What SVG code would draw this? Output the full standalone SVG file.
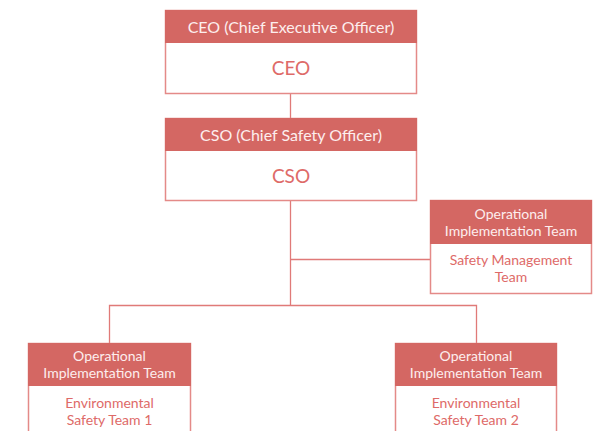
<svg xmlns="http://www.w3.org/2000/svg" width="598" height="431" viewBox="0 0 598 431">
<style>
.box{fill:#ffffff;stroke:#e48a88;stroke-width:1.5}
.hd{fill:#d46763}
.ht{fill:#fdeeee;font-family:Lato,"Noto Sans",sans-serif;text-anchor:middle}
.bt{fill:#de6a68;font-family:Lato,"Noto Sans",sans-serif;text-anchor:middle}
.sm{font-size:14px}
.ln{fill:none;stroke:#e07a78;stroke-width:1.3}
</style>
<rect width="598" height="431" fill="#ffffff"/>
<g id="connectors">
<path class="ln" d="M290.5 93V118"/>
<path class="ln" d="M290.5 201V305.5"/>
<path class="ln" d="M290.5 259.5H430"/>
<path class="ln" d="M109.5 343V305.5H476.5V343"/>
</g>
<g id="ceo">
<rect class="box" x="165.5" y="10.5" width="251" height="83"/>
<rect class="hd" x="165" y="10" width="252" height="33"/>
<text class="ht" x="291" y="32.5" font-size="16">CEO (Chief Executive Officer)</text>
<text class="bt" x="291" y="75" font-size="19">CEO</text>
</g>
<g id="cso">
<rect class="box" x="165.5" y="118.5" width="251" height="82"/>
<rect class="hd" x="165" y="118" width="252" height="33"/>
<text class="ht" x="291" y="140.5" font-size="16">CSO (Chief Safety Officer)</text>
<text class="bt" x="291" y="183" font-size="19">CSO</text>
</g>
<g id="safety-management">
<rect class="box" x="430.5" y="200.5" width="161" height="93"/>
<rect class="hd" x="430" y="200" width="162" height="44"/>
<text class="ht sm" x="511" y="219">Operational<tspan x="511" dy="17">Implementation Team</tspan></text>
<text class="bt sm" x="511" y="265">Safety Management<tspan x="511" dy="17">Team</tspan></text>
</g>
<g id="env-team-1">
<rect class="box" x="28.5" y="343.5" width="162" height="110"/>
<rect class="hd" x="28" y="343" width="163" height="43"/>
<text class="ht sm" x="109.5" y="361">Operational<tspan x="109.5" dy="17">Implementation Team</tspan></text>
<text class="bt sm" x="109.5" y="408">Environmental<tspan x="109.5" dy="17">Safety Team 1</tspan></text>
</g>
<g id="env-team-2">
<rect class="box" x="395.5" y="343.5" width="161" height="110"/>
<rect class="hd" x="395" y="343" width="162" height="43"/>
<text class="ht sm" x="476" y="361">Operational<tspan x="476" dy="17">Implementation Team</tspan></text>
<text class="bt sm" x="476" y="408">Environmental<tspan x="476" dy="17">Safety Team 2</tspan></text>
</g>
</svg>
